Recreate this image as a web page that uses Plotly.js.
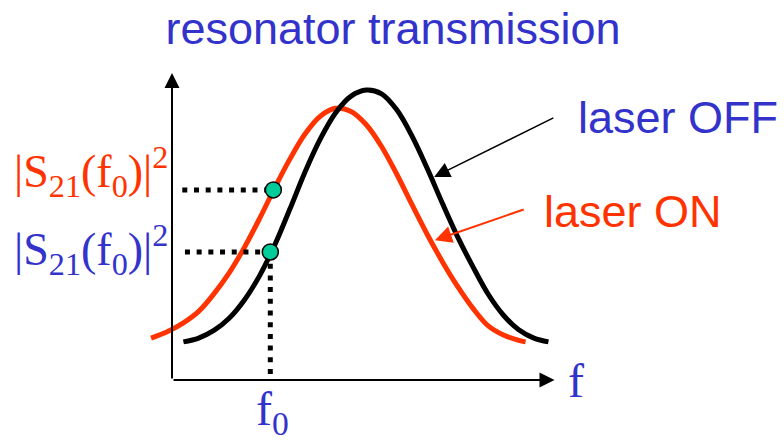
<!DOCTYPE html>
<html>
<head>
<meta charset="utf-8">
<script src="https://cdn.plot.ly/plotly-3.0.1.min.js"></script>
<style>
  html, body { margin: 0; padding: 0; background: #ffffff; }
  #plot { width: 784px; height: 443px; }
</style>
</head>
<body>
<div id="plot"></div>
<script>
// resonator transmission, arbitrary units (f axis 0..10, |S21|^2 axis 0..8)
var offX = [0.3, 0.7, 1.1, 1.5, 1.9, 2.3, 2.7, 3.1, 3.5, 3.9, 4.3, 4.7, 5.1,
            5.5, 5.9, 6.3, 6.7, 7.1, 7.5, 7.9, 8.3, 8.7, 9.1, 9.5, 9.88];
var offY = [1.0, 1.1, 1.3, 1.62, 2.1, 2.74, 3.55, 4.5, 5.48, 6.34, 7.02, 7.45, 7.61,
            7.51, 7.09, 6.4, 5.55, 4.63, 3.75, 2.97, 2.25, 1.7, 1.32, 1.1, 1.0];

var onX = [-0.55, -0.1, 0.3, 0.7, 1.1, 1.5, 1.9, 2.3, 2.7, 3.1, 3.5, 3.9, 4.3,
           4.7, 5.1, 5.5, 5.9, 6.3, 6.7, 7.1, 7.5, 7.9, 8.3, 8.7, 9.1, 9.28];
var onY = [1.1, 1.28, 1.5, 1.8, 2.26, 2.81, 3.48, 4.24, 5.05, 5.81, 6.47, 6.93, 7.13,
           7.05, 6.7, 6.13, 5.4, 4.6, 3.82, 3.1, 2.45, 1.88, 1.42, 1.18, 1.04, 1.0];

// working point f0 and the two read-out levels (laser ON, laser OFF)
var dotX = [2.66, 2.58];
var dotY = [4.99, 3.36];
var guideStart = [0.27, 0.34];

var axisEnd = {f: 10.04, s: 8.06};

var PX = 38.1; // pixels per unit
var blue = '#3333cc';
var red = '#ff3300';

var dotLine = {color: '#000000', width: 5, dash: '5px,6.7px'};

var trace_on = {
  x: onX, y: onY, mode: 'lines', type: 'scatter',
  line: {color: red, width: 5, shape: 'spline'},
  hoverinfo: 'skip'
};
var trace_off = {
  x: offX, y: offY, mode: 'lines', type: 'scatter',
  line: {color: '#000000', width: 5, shape: 'spline'},
  hoverinfo: 'skip'
};
var guide_on = {
  x: [guideStart[0], dotX[0]], y: [dotY[0], dotY[0]],
  mode: 'lines', line: dotLine, hoverinfo: 'skip'
};
var guide_off = {
  x: [guideStart[1], dotX[1]], y: [dotY[1], dotY[1]],
  mode: 'lines', line: dotLine, hoverinfo: 'skip'
};
var guide_f0 = {
  x: [dotX[1], dotX[1]], y: [dotY[1], 0],
  mode: 'lines', line: dotLine, hoverinfo: 'skip'
};
var trace_dots = {
  x: dotX, y: dotY, mode: 'markers', type: 'scatter',
  marker: {size: 16, color: '#00cc99', line: {color: '#000000', width: 1.5}},
  hoverinfo: 'skip'
};

function arrow(x, y, ax, ay, width, size, color) {
  return {
    x: x, y: y, ax: ax, ay: ay, xref: 'x', yref: 'y', axref: 'x', ayref: 'y',
    text: '', showarrow: true, arrowhead: 2, arrowwidth: width,
    arrowsize: size, arrowcolor: color, standoff: 0
  };
}
function label(txt, x, y, family, size, color) {
  return {
    text: txt, x: x, y: y, xref: 'x', yref: 'y', showarrow: false,
    xanchor: 'left', yanchor: 'middle',
    font: {family: family, size: size, color: color}
  };
}

var sans = 'Liberation Sans, Arial, sans-serif';
var serif = 'Liberation Serif, Times New Roman, serif';
var s21 = '|S<sub>21</sub>(f<sub>0</sub>)|<sup>2</sup>';

var layout = {
  width: 784,
  height: 443,
  margin: {l: 0, r: 0, t: 0, b: 0},
  paper_bgcolor: '#ffffff',
  plot_bgcolor: '#ffffff',
  showlegend: false,
  title: {
    text: 'resonator transmission',
    font: {family: sans, size: 45, color: blue},
    x: 393 / 784, xanchor: 'center',
    y: 1 - 28 / 443, yanchor: 'middle', yref: 'container'
  },
  xaxis: {range: [-172 / PX, 612 / PX], visible: false, fixedrange: true},
  yaxis: {range: [-63 / PX, 380 / PX], visible: false, fixedrange: true},
  annotations: [
    arrow(0, axisEnd.s, 0, 0, 2, 1.5, '#000000'),
    arrow(axisEnd.f, 0, 0, 0, 2, 1.5, '#000000'),
    arrow(6.88, 5.33, 10.05, 6.9, 1.5, 2.1, '#000000'),
    arrow(6.9, 3.67, 9.27, 4.49, 2, 1.7, red),
    label('laser OFF', 10.6, 6.88, sans, 45, blue),
    label('laser ON', 9.72, 4.41, sans, 45, red),
    label(s21, -4.2, 5.47, serif, 46, red),
    label(s21, -4.2, 3.42, serif, 46, blue),
    label('f', 10.35, 0, serif, 48, blue),
    label('f<sub>0</sub>', 2.16, -0.85, serif, 48, blue)
  ]
};

Plotly.newPlot('plot', [trace_on, trace_off, guide_on, guide_off, guide_f0, trace_dots],
  layout, {displayModeBar: false, staticPlot: true});
</script>
</body>
</html>
